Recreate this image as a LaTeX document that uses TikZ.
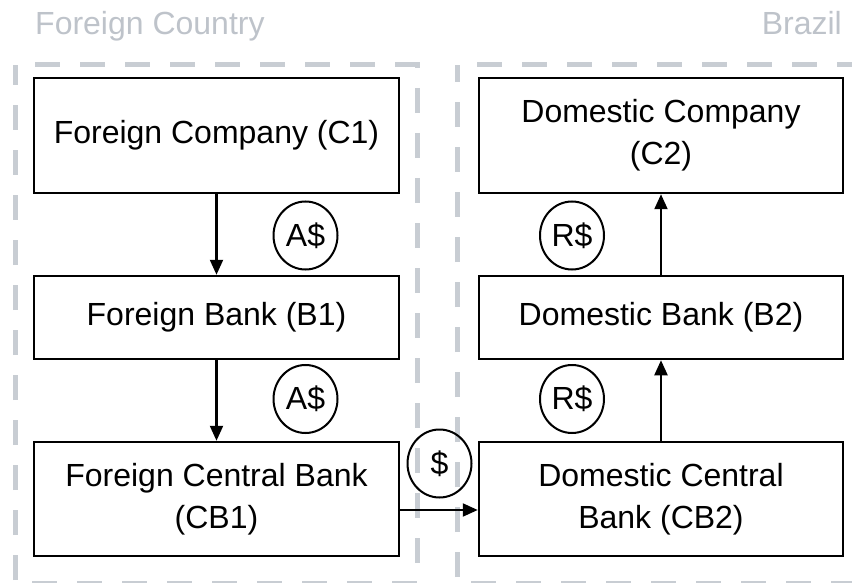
\documentclass[tikz,border=0pt]{standalone}
\usepackage{fontspec}
\setmainfont{Liberation Sans}
\usetikzlibrary{arrows.meta,shapes.geometric}
\definecolor{regiongray}{RGB}{200,205,211}
\definecolor{titlegray}{RGB}{190,195,202}
\begin{document}
\begin{tikzpicture}[x=1pt,y=-1pt,
  box/.style={draw=black, line width=2.5pt, fill=white, align=center,
    font=\fontsize{32}{42}\selectfont, inner sep=0pt},
  money/.style={draw=black, line width=2pt, ellipse, minimum width=64pt,
    minimum height=68pt, inner sep=0pt, font=\fontsize{32}{36}\selectfont},
  flow/.style={line width=2.2pt, -{Triangle[length=15pt,width=13pt]}},
  region/.style={draw=regiongray, line width=5pt, dash pattern=on 25pt off 20pt, dash phase=25pt},
  title/.style={text=titlegray, font=\fontsize{32}{36}\selectfont, inner sep=0pt}]
\useasboundingbox (0,0) rectangle (852,583);
\clip (0,0) rectangle (852,583);
% regions
\draw[region] (15,65) -- (417,65) -- (417,583) -- (15,583) -- cycle;
\draw[region] (457,65) -- (880,65) -- (880,583) -- (457,583) -- cycle;
\node[title, anchor=base west] (fc) at (35,35) {Foreign Country};
\node[title, anchor=base east] (br) at (842,35) {Brazil};
% boxes
\node[box, minimum width=365pt, minimum height=115pt] (C1) at (216.5,135.5) {Foreign Company (C1)};
\node[box, minimum width=365pt, minimum height=83pt] (B1) at (216.5,317.5) {Foreign Bank (B1)};
\node[box, minimum width=365pt, minimum height=114pt] (CB1) at (216.5,499) {Foreign Central Bank\\(CB1)};
\node[box, minimum width=364pt, minimum height=115pt] (C2) at (661,135.5) {Domestic Company\\(C2)};
\node[box, minimum width=364pt, minimum height=83pt] (B2) at (661,317.5) {Domestic Bank (B2)};
\node[box, minimum width=364pt, minimum height=114pt] (CB2) at (661,499) {Domestic Central\\Bank (CB2)};
% arrows
\draw[flow] (C1.south) -- (B1.north);
\draw[flow] (B1.south) -- (CB1.north);
\draw[flow] (CB2.north) -- (B2.south);
\draw[flow] (B2.north) -- (C2.south);
\draw[flow] ([yshift=-11pt]CB1.east) -- ([yshift=-11pt]CB2.west);
% money
\node[money] (m1) at (305.5,235.5) {A\$};
\node[money] (m2) at (305.5,399) {A\$};
\node[money] (m3) at (572,235.5) {R\$};
\node[money] (m4) at (572,399) {R\$};
\node[money] (m5) at (439.5,463.5) {\$};
\end{tikzpicture}
\end{document}
